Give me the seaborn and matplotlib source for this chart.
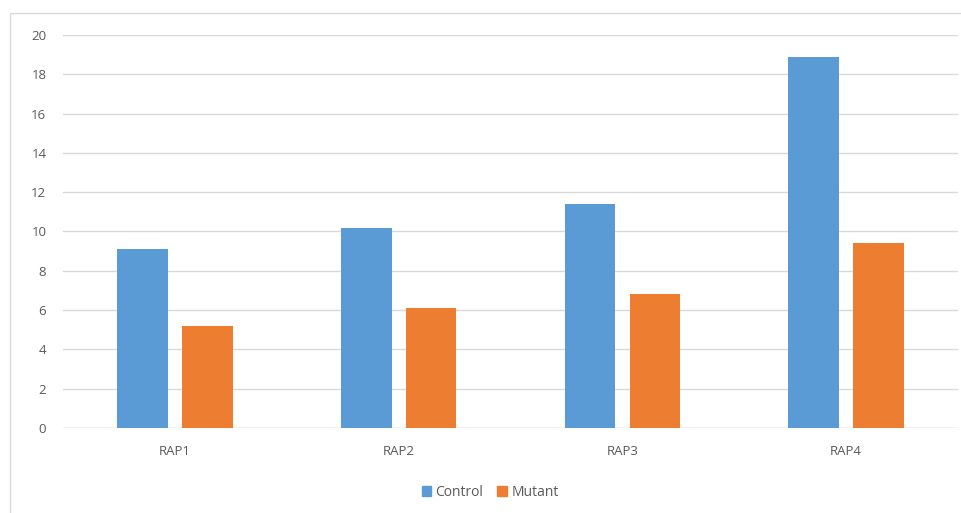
import matplotlib
matplotlib.use("Agg")
import matplotlib.pyplot as plt
import matplotlib.patches as mpatches
import pandas as pd
import seaborn as sns

categories = ["RAP1", "RAP2", "RAP3", "RAP4"]
control = [9.1, 10.2, 11.4, 18.9]
mutant = [5.2, 6.1, 6.8, 9.4]
series_names = ["Control", "Mutant"]
y_ticks = [0, 2, 4, 6, 8, 10, 12, 14, 16, 18, 20]

df = pd.DataFrame({
    "group": categories * 2,
    "series": [series_names[0]] * len(categories) + [series_names[1]] * len(categories),
    "value": control + mutant,
})

sns.set_theme(style="white")
plt.rcParams["font.family"] = ["Open Sans", "DejaVu Sans"]

text_color = "#595959"
grid_color = "#D9D9D9"
palette = {"Control": "#5B9BD5", "Mutant": "#ED7D31"}

fig = plt.figure(figsize=(9.61, 5.13), dpi=100)
ax = fig.add_axes([0.0656, 0.1657, 0.9313, 0.7661])

sns.barplot(data=df, x="group", y="value", hue="series", palette=palette,
            width=0.58, gap=0.22, saturation=1, ax=ax, legend=False,
            linewidth=0)

ax.set_ylim(0, 20)
ax.set_yticks(y_ticks)
ax.set_xlim(-0.5, len(categories) - 0.5)
ax.yaxis.grid(True, color=grid_color, linewidth=1)
ax.set_axisbelow(True)
for side in ["top", "right", "left", "bottom"]:
    ax.spines[side].set_visible(False)
ax.axhline(0, color=grid_color, linewidth=1, zorder=0.5)
ax.set_xlabel("")
ax.set_ylabel("")
ax.tick_params(axis="both", length=0, colors=text_color, labelsize=9.5)
ax.tick_params(axis="y", pad=12)
ax.tick_params(axis="x", pad=12)

# legend below the plot
handles = [mpatches.Patch(color=palette[s], label=s) for s in series_names]
fig.legend(handles=handles, loc="center", bbox_to_anchor=(0.51, 0.04),
           ncol=2, frameon=False, fontsize=10, labelcolor=text_color,
           handlelength=0.7, handleheight=0.7, handletextpad=0.3,
           columnspacing=1.0)

# chart area frame
frame = mpatches.Rectangle((10 / 961, -0.05), 1.0, 1 - 13 / 513 + 0.05,
                           transform=fig.transFigure, fill=False,
                           edgecolor="#D9D9D9", linewidth=1)
fig.add_artist(frame)

fig.savefig("out.png", dpi=100)
